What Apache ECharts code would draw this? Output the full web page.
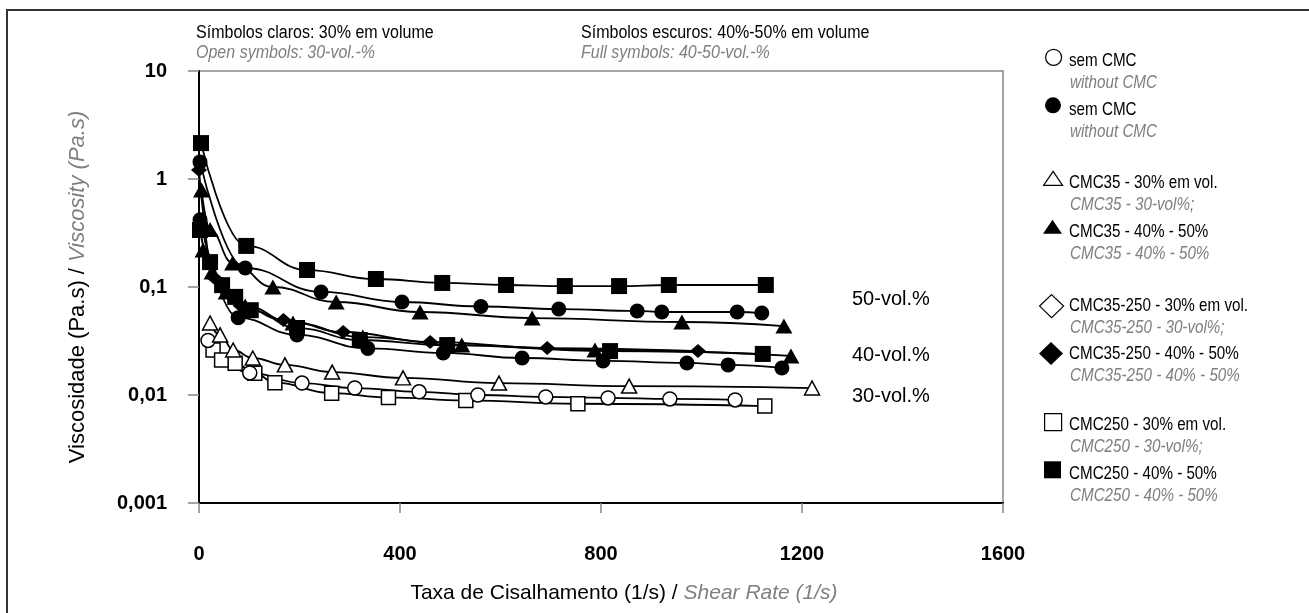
<!DOCTYPE html>
<html><head><meta charset="utf-8">
<script src="https://cdn.jsdelivr.net/npm/echarts@6/dist/echarts.min.js"></script>
<style>html,body{margin:0;padding:0;background:#fff}#c{width:1309px;height:613px}</style>
</head><body><div id="c"></div>
<script>
// ---- axis ticks ----
const xTicks = [0, 400, 800, 1200, 1600];
const yTickLabels = ['0,001', '0,01', '0,1', '1', '10'];

// ---- data (shear rate 1/s, viscosity Pa.s) ----
const semCMC30_x = [18, 101, 205, 310, 438, 555, 690, 814, 937, 1067];
const semCMC30_y = [0.032, 0.016, 0.0129, 0.0116, 0.0107, 0.0100, 0.0096, 0.0094, 0.0092, 0.0090];

const semCMC40_x = [2, 78, 195, 336, 486, 643, 804, 971, 1053, 1160];
const semCMC40_y = [0.42, 0.052, 0.036, 0.027, 0.0245, 0.022, 0.0207, 0.0198, 0.019, 0.0178];

const semCMC50_x = [2, 92, 243, 404, 561, 716, 872, 921, 1071, 1120];
const semCMC50_y = [1.44, 0.150, 0.090, 0.0726, 0.066, 0.0625, 0.060, 0.0587, 0.0587, 0.0574];

const cmc35_30_x = [22, 42, 68, 107, 171, 265, 406, 597, 856, 1220];
const cmc35_30_y = [0.0464, 0.036, 0.0261, 0.022, 0.019, 0.0163, 0.0144, 0.0129, 0.0121, 0.0116];

const cmc35_40_x = [8, 26, 54, 92, 187, 326, 523, 788, 1178];
const cmc35_40_y = [0.22, 0.138, 0.090, 0.0667, 0.0464, 0.0344, 0.029, 0.0261, 0.023];

const cmc35_50_x = [5, 22, 67, 147, 273, 440, 663, 961, 1164];
const cmc35_50_y = [0.79, 0.34, 0.167, 0.10, 0.0726, 0.0587, 0.0516, 0.0474, 0.0435];

const cmc35250_30_x = [];
const cmc35250_30_y = [];

const cmc35250_40_x = [0, 32, 83, 168, 287, 460, 693, 993];
const cmc35250_40_y = [1.21, 0.12, 0.067, 0.0495, 0.0383, 0.031, 0.0272, 0.0255];

const cmc250_30_x = [28, 45, 72, 111, 151, 264, 377, 531, 754, 1126];
const cmc250_30_y = [0.0261, 0.0211, 0.0197, 0.0159, 0.0130, 0.0104, 0.0095, 0.0089, 0.0083, 0.0079];

const cmc250_40_x = [2, 22, 46, 72, 103, 195, 320, 494, 818, 1122];
const cmc250_40_y = [0.337, 0.170, 0.104, 0.081, 0.061, 0.0417, 0.0323, 0.029, 0.0255, 0.024];

const cmc250_50_x = [4, 94, 215, 352, 484, 611, 728, 836, 935, 1128];
const cmc250_50_y = [2.15, 0.24, 0.1436, 0.1186, 0.109, 0.1044, 0.102, 0.102, 0.1044, 0.1044];

// ---- legend entries ----
const legendKeys = ['semCMC30', 'semCMC4050', 'CMC35_30', 'CMC35_4050', 'CMC35250_30', 'CMC35250_4050', 'CMC250_30', 'CMC250_4050'];
const legendLabels = ['sem CMC', 'sem CMC', 'CMC35 - 30% em vol.', 'CMC35 - 40% - 50%', 'CMC35-250 - 30% em vol.', 'CMC35-250 - 40% - 50%', 'CMC250 - 30% em vol.', 'CMC250 - 40% - 50%'];
const legendTrans = ['without CMC', 'without CMC', 'CMC35 - 30-vol%;', 'CMC35 - 40% - 50%', 'CMC35-250 - 30-vol%;', 'CMC35-250 - 40% - 50%', 'CMC250 - 30-vol%;', 'CMC250 - 40% - 50%'];

const SANS = "'Liberation Sans',Arial,sans-serif";
const GRAY = '#7f7f7f';

function zip(xs, ys) { return xs.map((x, i) => [x, ys[i]]); }

const shapes = {
  semCMC30: { symbol: 'circle', size: 14, open: true },
  semCMC4050: { symbol: 'circle', size: 15, open: false },
  CMC35_30: { symbol: 'triangle', size: [15, 14], open: true },
  CMC35_4050: { symbol: 'triangle', size: [17, 15], open: false },
  CMC35250_30: { symbol: 'diamond', size: [15, 14], open: true },
  CMC35250_4050: { symbol: 'diamond', size: [16, 14], open: false },
  CMC250_30: { symbol: 'rect', size: 14, open: true },
  CMC250_4050: { symbol: 'rect', size: 16, open: false }
};

const curves = [
  ['CMC250_30', cmc250_30_x, cmc250_30_y],
  ['semCMC30', semCMC30_x, semCMC30_y],
  ['CMC35_30', cmc35_30_x, cmc35_30_y],
  ['CMC35250_30', cmc35250_30_x, cmc35250_30_y],
  ['semCMC4050', semCMC40_x, semCMC40_y],
  ['CMC250_4050', cmc250_40_x, cmc250_40_y],
  ['CMC35_4050', cmc35_40_x, cmc35_40_y],
  ['CMC35250_4050', cmc35250_40_x, cmc35250_40_y],
  ['CMC35_4050', cmc35_50_x, cmc35_50_y],
  ['semCMC4050', semCMC50_x, semCMC50_y],
  ['CMC250_4050', cmc250_50_x, cmc250_50_y]
];

const series = curves.map(([key, xs, ys]) => {
  const s = shapes[key];
  return {
    name: key, type: 'line', data: zip(xs, ys),
    smooth: 0.45, smoothMonotone: 'x',
    symbol: s.symbol, symbolSize: s.size, showAllSymbol: true,
    lineStyle: { color: '#000', width: 1.8 },
    itemStyle: { color: s.open ? '#fff' : '#000', borderColor: '#000', borderWidth: s.open ? 1.5 : 0 },
    emphasis: { disabled: true }, animation: false, z: s.open ? 2 : 3
  };
});

const rowY = [60.7, 109.3, 182.7, 231.7, 306, 354, 425, 473.3];
const legendIcon = {
  circle: { left: 1045, w: 16, h: 16 },
  triangle: { left: 1043, w: 19, h: 14 },
  diamond: { left: 1039, w: 24, h: 23 },
  rect: { left: 1044, w: 17, h: 17 }
};
const legends = legendKeys.map((key, i) => {
  const s = shapes[key];
  const ic = legendIcon[s.symbol];
  return {
    left: ic.left, top: rowY[i] - 12, padding: 0, orient: 'vertical',
    itemWidth: ic.w, itemHeight: ic.h, selectedMode: false,
    data: [{ name: key, icon: s.symbol,
      itemStyle: { color: s.open ? '#fff' : '#000', borderColor: '#000', borderWidth: s.open ? 1.2 : 0 } }],
    formatter: () => '',
    textStyle: { fontSize: 19, lineHeight: 24 }
  };
});

function condensed(text, x, y, size, color, italic, sx) {
  return { type: 'text', x: x, y: y, scaleX: sx, silent: true,
    style: { text: text, fill: color, font: (italic ? 'italic ' : '') + size + 'px ' + SANS, verticalAlign: 'middle' } };
}

const graphics = [
  { type: 'rect', shape: { x: 7, y: 10, width: 1330, height: 640 }, style: { fill: 'none', stroke: '#333', lineWidth: 2 }, silent: true },
  condensed('Símbolos claros: 30% em volume', 196, 33, 18, '#000', false, 0.89),
  condensed('Open symbols: 30-vol.-%', 196, 53, 18, GRAY, true, 0.89),
  condensed('Símbolos escuros: 40%-50% em volume', 581, 33, 18, '#000', false, 0.89),
  condensed('Full symbols: 40-50-vol.-%', 581, 53, 18, GRAY, true, 0.89),
  { type: 'text', x: 852, y: 299, style: { text: '50-vol.%', fill: '#000', font: '20px ' + SANS, verticalAlign: 'middle' } },
  { type: 'text', x: 852, y: 355, style: { text: '40-vol.%', fill: '#000', font: '20px ' + SANS, verticalAlign: 'middle' } },
  { type: 'text', x: 852, y: 396, style: { text: '30-vol.%', fill: '#000', font: '20px ' + SANS, verticalAlign: 'middle' } }
];
legendLabels.forEach((t, i) => {
  graphics.push(condensed(t, 1069, rowY[i], 19, '#000', false, 0.8));
  graphics.push(condensed(legendTrans[i], 1070, rowY[i] + 22, 19, GRAY, true, 0.8));
});

const chart = echarts.init(document.getElementById('c'), null, { renderer: 'canvas' });
chart.setOption({
  animation: false,
  backgroundColor: '#fff',
  grid: { left: 199, top: 71, width: 804, height: 432, show: true, borderColor: '#888', borderWidth: 1.5, backgroundColor: 'transparent' },
  xAxis: {
    type: 'value', min: xTicks[0], max: xTicks[xTicks.length - 1], interval: xTicks[1] - xTicks[0],
    axisLine: { lineStyle: { color: '#000', width: 2 } },
    axisTick: { show: true, length: 10, lineStyle: { color: '#888', width: 1.5 } },
    splitLine: { show: false },
    axisLabel: { fontFamily: SANS, fontWeight: 'bold', fontSize: 20, color: '#000', margin: 41,
      formatter: v => String(v) },
    name: '{a|Taxa de Cisalhamento (1/s) / }{b|Shear Rate (1/s)}', nameLocation: 'middle', nameGap: 80,
    nameTextStyle: { padding: [0, 0, 0, 46], rich: { a: { fontFamily: SANS, fontSize: 21, color: '#000' }, b: { fontFamily: SANS, fontSize: 21, color: GRAY, fontStyle: 'italic' } } }
  },
  yAxis: {
    type: 'log', logBase: 10, min: 0.001, max: 10,
    axisLine: { lineStyle: { color: '#000', width: 2 } },
    axisTick: { show: true, length: 11, lineStyle: { color: '#888', width: 1.5 } },
    splitLine: { show: false }, minorTick: { show: false },
    axisLabel: { fontFamily: SANS, fontWeight: 'bold', fontSize: 20, color: '#000', margin: 32,
      formatter: v => yTickLabels[Math.round(Math.log10(v)) + 3] },
    name: '{a|Viscosidade (Pa.s) / }{b|Viscosity (Pa.s)}', nameLocation: 'middle', nameGap: 110, nameRotate: 90,
    nameTextStyle: { rich: { a: { fontFamily: SANS, fontSize: 22, color: '#000' }, b: { fontFamily: SANS, fontSize: 22, color: GRAY, fontStyle: 'italic' } } }
  },
  legend: legends,
  graphic: graphics,
  series: series
});
</script></body></html>
